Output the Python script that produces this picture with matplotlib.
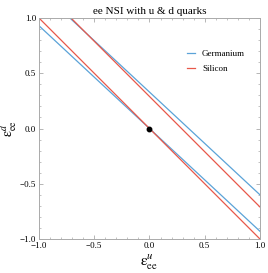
import numpy as np
import matplotlib
matplotlib.use("Agg")
import matplotlib.pyplot as plt
from matplotlib.ticker import MultipleLocator

plt.rcParams['font.family'] = ['Liberation Serif', 'DejaVu Serif']
plt.rcParams['mathtext.fontset'] = 'stix'

# data: lines eps_d = slope*eps_u + intercept
series_names = ["Germanium", "Silicon"]
slopes = [-0.93, -1.0]
intercepts_inner = [0.0, 0.0]
intercepts_outer = [0.33, 0.29]
colors = ["#5BA3D8", "#E8584A"]
point = (0.0, 0.0)
xticks = [-1.0, -0.5, 0.0, 0.5, 1.0]
yticks = [-1.0, -0.5, 0.0, 0.5, 1.0]

fig = plt.figure(figsize=(2.68, 2.73), dpi=100)
ax = fig.add_axes([0.1455, 0.1245, 0.8245, 0.8095])

x = np.linspace(-1.5, 1.5, 200)
for name, s, c0, c1, col in zip(series_names, slopes, intercepts_inner, intercepts_outer, colors):
    ax.plot(x, s * x + c0, color=col, lw=0.9, label=name)
    ax.plot(x, s * x + c1, color=col, lw=0.9)

ax.plot([point[0]], [point[1]], 'o', color='black', ms=3.2, zorder=5)

ax.set_xlim(-1, 1)
ax.set_ylim(-1, 1)
ax.set_xticks(xticks)
ax.set_yticks(yticks)
ax.set_xticklabels([f"{v:.1f}".replace('-', '\u2212') for v in xticks])
ax.set_yticklabels([f"{v:.1f}".replace('-', '\u2212') for v in yticks])
ax.xaxis.set_minor_locator(MultipleLocator(0.1))
ax.yaxis.set_minor_locator(MultipleLocator(0.1))
ax.tick_params(which='both', direction='in', top=True, right=True, labelsize=6.5,
               color='#aaaaaa', pad=2)
ax.tick_params(which='major', length=3, width=0.6)
ax.tick_params(which='minor', length=1.6, width=0.5)
for sp in ax.spines.values():
    sp.set_color('#aaaaaa')
    sp.set_linewidth(0.7)

ax.set_title("ee NSI with u & d quarks", fontsize=8, pad=3)
ax.set_xlabel(r"$\mathrm{\epsilon}^{u}_{\mathrm{ee}}$", fontsize=11)
ax.set_ylabel(r"$\mathrm{\epsilon}^{d}_{\mathrm{ee}}$", fontsize=10)
ax.xaxis.set_label_coords(0.5, -0.06)
ax.yaxis.set_label_coords(-0.088, 0.5)

ax.legend(loc='upper left', bbox_to_anchor=(0.67, 0.857), frameon=False, fontsize=6.5,
          handlelength=0.9, labelspacing=0.75, handletextpad=0.75,
          borderpad=0, borderaxespad=0)

fig.savefig("out.png", dpi=100)
